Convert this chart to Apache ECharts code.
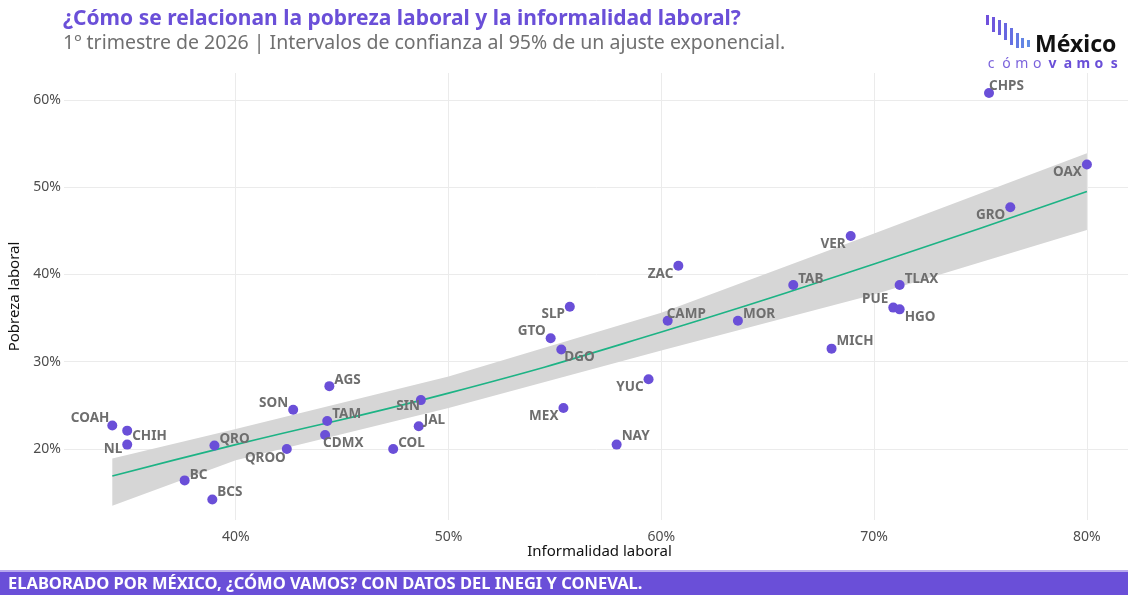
<!DOCTYPE html>
<html>
<head>
<meta charset="utf-8">
<script src="https://cdn.jsdelivr.net/npm/echarts@6/dist/echarts.min.js"></script>
<style>
  html, body { margin: 0; padding: 0; background: #fff; }
  #c1 { width: 1128px; height: 595px; }
</style>
</head>
<body>
<div id="c1"></div>
<script>
// datos por estado
var estados = ['COAH', 'CHIH', 'NL', 'QRO', 'BC', 'BCS', 'SON', 'QROO', 'AGS', 'TAM', 'CDMX', 'SIN', 'JAL', 'COL',
    'SLP', 'GTO', 'DGO', 'CAMP', 'YUC', 'MEX', 'NAY', 'ZAC', 'MOR', 'TAB', 'VER', 'TLAX', 'PUE', 'HGO', 'MICH',
    'CHPS', 'OAX', 'GRO'];
var informalidad = [34.2, 34.9, 34.9, 39.0, 37.6, 38.9, 42.7, 42.4, 44.4, 44.3, 44.2, 48.7, 48.6, 47.4,
    55.7, 54.8, 55.3, 60.3, 59.4, 55.4, 57.9, 60.8, 63.6, 66.2, 68.9, 71.2, 70.9, 71.2, 68.0,
    75.4, 80.0, 76.4];
var pobreza = [22.7, 22.1, 20.5, 20.4, 16.4, 14.2, 24.5, 20.0, 27.2, 23.2, 21.6, 25.6, 22.6, 20.0,
    36.3, 32.7, 31.4, 34.7, 28.0, 24.7, 20.5, 41.0, 34.7, 38.8, 44.4, 38.8, 36.2, 36.0, 31.5,
    60.8, 52.6, 47.7];

// ajuste exponencial e intervalo de confianza
var ajusteX = [34.2, 40, 50, 60, 70, 80];
var ajusteY = [16.9, 20.5, 26.4, 33.4, 41.2, 49.5];
var bandaInf = [13.5, 18.7, 24.7, 31.3, 37.7, 45.1];
var bandaSup = [18.9, 22.3, 28.3, 35.6, 44.7, 53.9];

var ticksX = [40, 50, 60, 70, 80];
var ticksY = [20, 30, 40, 50, 60];

// posicion de etiquetas: [lado, dx, dy]
var etiquetas = {
    COAH: ['left', 2, -7], CHIH: ['right', 0, 6], NL: ['left', 0, 5], QRO: ['right', 0, -6],
    BC: ['right', 0, -5], BCS: ['right', 0, -7], SON: ['left', 0, -7], QROO: ['left', 4, 9],
    AGS: ['right', 0, -6], TAM: ['right', 0, -7], CDMX: ['right', -7, 8], SIN: ['left', 4, 6],
    JAL: ['right', 0, -6], COL: ['right', 0, -6], SLP: ['left', 0, 7], GTO: ['left', 0, -7],
    DGO: ['right', -2, 8], CAMP: ['right', -6, -7], YUC: ['left', 0, 8], MEX: ['left', 0, 8],
    NAY: ['right', 0, -8], ZAC: ['left', 0, 8], MOR: ['right', 0, -7], TAB: ['right', 0, -6],
    VER: ['left', 0, 8], TLAX: ['right', 0, -6], PUE: ['left', 0, -8], HGO: ['right', 0, 8],
    MICH: ['right', 0, -7], CHPS: ['right', -5, -7], OAX: ['left', 0, 8], GRO: ['left', 0, 8]
};

var morado = '#6a4fd8';

var puntos = estados.map(function (e, i) {
    var p = etiquetas[e];
    return {
        name: e,
        value: [informalidad[i], pobreza[i]],
        label: { position: p[0], offset: [p[1], p[2]], distance: 0 }
    };
});

var linea = ajusteX.map(function (x, i) { return [x, ajusteY[i]]; });

// logo
var logo = [];
var barras = [[986, 15, 25], [992, 17, 32], [998, 20, 35], [1004, 23, 40], [1010, 28, 45], [1016, 33, 48], [1021, 38, 48], [1027, 40, 47]];
var coloresBarra = ['#7050dc', '#6e56dd', '#6b5edf', '#6866e0', '#6670e2', '#647ae3', '#6384e4', '#628ee5'];
barras.forEach(function (b, i) {
    logo.push({ type: 'rect', shape: { x: b[0], y: b[1], width: 3, height: b[2] - b[1] }, style: { fill: coloresBarra[i] } });
});
logo.push({ type: 'text', x: 1035, y: 34, style: { text: 'México', font: 'bold 23px "Noto Sans"', fill: '#111' } });
var letras = ['c', 'ó', 'm', 'o', 'v', 'a', 'm', 'o', 's'];
letras.forEach(function (l, i) {
    logo.push({
        type: 'text', x: 991 + i * 15.4, y: 64,
        style: { text: l, font: (i > 3 ? 'bold ' : '') + '14px "Noto Sans"', fill: i > 3 ? '#6a4fd8' : '#7b63dc', align: 'center', verticalAlign: 'middle' }
    });
});

// pie de pagina
var pie = [
    { type: 'rect', shape: { x: 0, y: 570, width: 1128, height: 2 }, style: { fill: '#b8a8ee' } },
    { type: 'rect', shape: { x: 0, y: 572, width: 1128, height: 23 }, style: { fill: morado } },
    { type: 'text', x: 8, y: 584, style: { text: 'ELABORADO POR MÉXICO, ¿CÓMO VAMOS? CON DATOS DEL INEGI Y CONEVAL.', font: 'bold 16.5px "Noto Sans"', fill: '#fff', verticalAlign: 'middle' } }
];

var chart = echarts.init(document.getElementById('c1'));
var option = {
    backgroundColor: '#ffffff',
    animation: false,
    textStyle: { fontFamily: 'Noto Sans' },
    title: {
        text: '¿Cómo se relacionan la pobreza laboral y la informalidad laboral?',
        subtext: '1º trimestre de 2026 | Intervalos de confianza al 95% de un ajuste exponencial.',
        left: 58,
        top: 4,
        itemGap: 3,
        textStyle: { color: morado, fontSize: 21, fontWeight: 'bold', fontFamily: 'Noto Sans' },
        subtextStyle: { color: '#707070', fontSize: 19.5, fontFamily: 'Noto Sans' }
    },
    grid: { left: 64, top: 73, width: 1071, height: 447, outerBoundsMode: 'none' },
    xAxis: {
        type: 'value',
        min: 31.93,
        max: 82.26,
        name: 'Informalidad laboral',
        nameLocation: 'middle',
        nameGap: 24,
        nameMoveOverlap: false,
        nameTextStyle: { color: '#111', fontSize: 15 },
        axisLine: { show: false },
        axisTick: { show: false, customValues: ticksX },
        axisLabel: { customValues: ticksX, formatter: '{value}%', color: '#4d4d4d', fontSize: 14, margin: 10 },
        splitLine: { show: true, lineStyle: { color: '#ebebeb', width: 1 } }
    },
    yAxis: {
        type: 'value',
        min: 11.86,
        max: 63.09,
        name: 'Pobreza laboral',
        nameLocation: 'middle',
        nameGap: 38,
        nameTextStyle: { color: '#111', fontSize: 15 },
        axisLine: { show: false },
        axisTick: { show: false, customValues: ticksY },
        axisLabel: { customValues: ticksY, formatter: '{value}%', color: '#4d4d4d', fontSize: 14, margin: 3 },
        splitLine: { show: true, lineStyle: { color: '#ebebeb', width: 1 } }
    },
    graphic: logo.concat(pie),
    series: [
        {
            name: 'IC 95%',
            type: 'custom',
            silent: true,
            z: 1,
            data: [[0]],
            renderItem: function (params, api) {
                var pts = [];
                for (var i = 0; i < ajusteX.length; i++) pts.push(api.coord([ajusteX[i], bandaSup[i]]));
                for (var j = ajusteX.length - 1; j >= 0; j--) pts.push(api.coord([ajusteX[j], bandaInf[j]]));
                return { type: 'polygon', shape: { points: pts }, style: { fill: '#d6d6d6' } };
            }
        },
        {
            name: 'Ajuste',
            type: 'line',
            z: 2,
            data: linea,
            smooth: true,
            symbol: 'none',
            lineStyle: { color: '#1db385', width: 1.6 }
        },
        {
            name: 'Estados',
            type: 'scatter',
            z: 3,
            data: puntos,
            symbolSize: 10,
            itemStyle: { color: morado, opacity: 1 },
            label: {
                show: true,
                formatter: '{b}',
                color: '#6e6e6e',
                fontWeight: 'bold',
                fontSize: 13.5,
                fontFamily: 'Noto Sans'
            }
        }
    ]
};
chart.setOption(option);
</script>
</body>
</html>
